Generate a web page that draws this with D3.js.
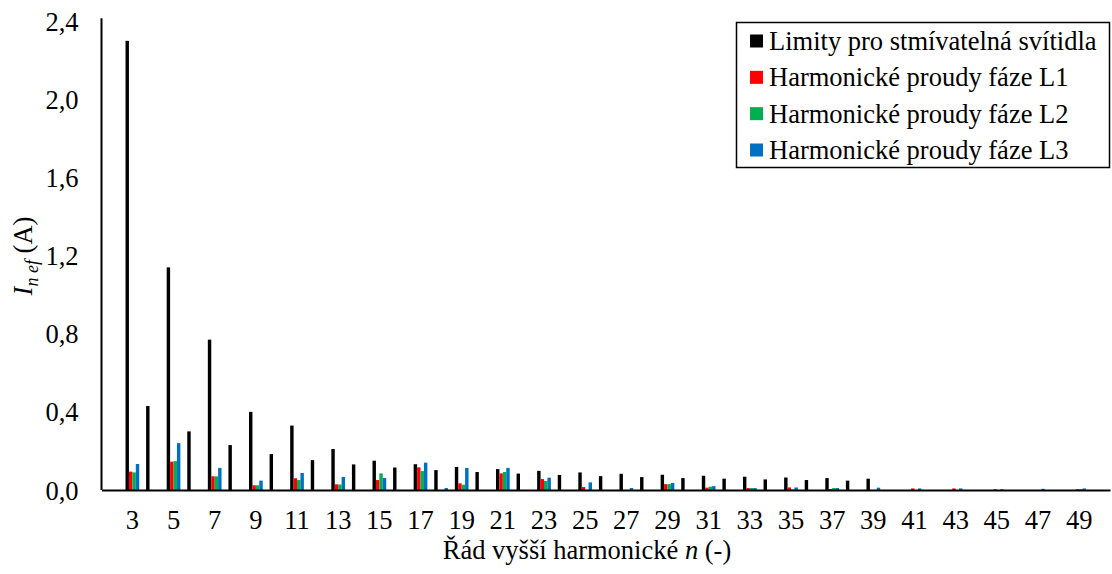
<!DOCTYPE html>
<html>
<head>
<meta charset="utf-8">
<script src="https://cdn.jsdelivr.net/npm/d3@7"></script>
<style>
  body { margin: 0; background: #fff; }
</style>
</head>
<body>
<svg id="chart" width="1112" height="574"></svg>
<script>
// harmonic order n (category axis), only odd ones get a label
const orders = [2, 3, 4, 5, 6, 7, 8, 9, 10, 11, 12, 13, 14, 15, 16, 17, 18, 19, 20, 21, 22, 23, 24, 25, 26,
  27, 28, 29, 30, 31, 32, 33, 34, 35, 36, 37, 38, 39, 40, 41, 42, 43, 44, 45, 46, 47, 48, 49, 50];
const tickOrders = [3, 5, 7, 9, 11, 13, 15, 17, 19, 21, 23, 25, 27, 29, 31, 33, 35, 37, 39, 41, 43, 45, 47, 49];
const yTicks = [0, 0.4, 0.8, 1.2, 1.6, 2.0, 2.4];

// values per order, same order as `orders`
const limits = [0, 2.30, 0.43, 1.14, 0.30, 0.77, 0.23, 0.40, 0.184, 0.33, 0.153, 0.21, 0.131, 0.15, 0.115,
  0.132, 0.102, 0.118, 0.092, 0.107, 0.084, 0.098, 0.077, 0.090, 0.071, 0.083, 0.066, 0.078, 0.061, 0.073,
  0.058, 0.068, 0.054, 0.064, 0.051, 0.061, 0.048, 0.058, 0, 0, 0, 0, 0, 0, 0, 0, 0, 0, 0];
const phaseL1 = [0, 0.094, 0, 0.145, 0, 0.070, 0, 0.024, 0, 0.060, 0, 0.029, 0, 0.051, 0,
  0.116, 0, 0.034, 0, 0.085, 0, 0.056, 0, 0.015, 0, 0, 0, 0.030, 0, 0.012,
  0, 0.010, 0, 0.013, 0, 0.005, 0, 0, 0, 0.008, 0, 0.008, 0, 0.004, 0, 0, 0, 0.004, 0];
const phaseL2 = [0, 0.090, 0, 0.148, 0, 0.070, 0, 0.024, 0, 0.051, 0, 0.028, 0, 0.085, 0,
  0.097, 0, 0.027, 0, 0.092, 0, 0.046, 0, 0, 0, 0, 0, 0.030, 0, 0.017,
  0, 0.010, 0, 0.003, 0, 0.010, 0, 0, 0, 0, 0, 0, 0, 0, 0, 0, 0, 0.004, 0];
const phaseL3 = [0, 0.133, 0, 0.240, 0, 0.113, 0, 0.048, 0, 0.087, 0, 0.067, 0, 0.061, 0,
  0.140, 0.010, 0.113, 0, 0.113, 0, 0.063, 0, 0.039, 0, 0.010, 0, 0.036, 0, 0.020,
  0, 0.010, 0, 0.013, 0, 0.010, 0, 0.012, 0, 0.008, 0, 0.008, 0, 0.004, 0, 0.006, 0, 0.008, 0];

const seriesNames = ["Limity pro stmívatelná svítidla", "Harmonické proudy fáze L1",
  "Harmonické proudy fáze L2", "Harmonické proudy fáze L3"];
const seriesColors = ["#000000", "#ff0000", "#00b050", "#0070c0"];
const seriesValues = [limits, phaseL1, phaseL2, phaseL3];

const FONT = "'Liberation Serif', serif";
const fontSize = 26.5;

const svg = d3.select("#chart");

const plot = { left: 101.5, right: 1110, top: 21.3, bottom: 490 };

const x0 = d3.scaleBand()
  .domain(orders)
  .range([plot.left, plot.right]);

const x1 = d3.scaleBand()
  .domain(d3.range(seriesNames.length))
  .range([x0.bandwidth() * 0.167, x0.bandwidth() * 0.833]);

const y = d3.scaleLinear()
  .domain([0, 2.4])
  .range([plot.bottom, plot.top]);

// bars
const groups = svg.append("g").attr("class", "bars")
  .selectAll("g")
  .data(orders)
  .join("g")
  .attr("transform", d => `translate(${x0(d)},0)`);

groups.selectAll("rect")
  .data((d, i) => seriesValues.map((vals, s) => ({ s, v: vals[i] })))
  .join("rect")
  .attr("x", d => x1(d.s))
  .attr("width", x1.bandwidth())
  .attr("y", d => y(d.v))
  .attr("height", d => plot.bottom - y(d.v))
  .attr("fill", d => seriesColors[d.s]);

// y axis
const yAxis = svg.append("g")
  .attr("transform", `translate(${plot.left},0)`)
  .call(d3.axisLeft(y).tickValues(yTicks).tickSize(0).tickSizeOuter(0).tickPadding(23)
    .tickFormat(d => d3.format(".1f")(d).replace(".", ",")));
yAxis.attr("font-family", null).attr("font-size", null);
yAxis.select(".domain").attr("stroke", "#000").attr("stroke-width", 2)
  .attr("d", `M0,${plot.top - 3}V${plot.bottom}`);
yAxis.selectAll("text")
  .style("font-family", FONT)
  .style("font-size", fontSize + "px")
  .attr("fill", "#000")
  .attr("dy", "0.34em");

// x axis
const xAxis = svg.append("g")
  .attr("transform", `translate(0,${plot.bottom})`)
  .call(d3.axisBottom(x0).tickValues(tickOrders).tickSize(0).tickSizeOuter(0).tickPadding(20));
xAxis.attr("font-family", null).attr("font-size", null);
xAxis.select(".domain").attr("stroke", "#000").attr("stroke-width", 2);
xAxis.selectAll("text")
  .style("font-family", FONT)
  .style("font-size", fontSize + "px")
  .attr("fill", "#000");

// axis titles
const xTitle = svg.append("text")
  .attr("x", 587)
  .attr("y", 559)
  .attr("text-anchor", "middle")
  .style("font-family", FONT)
  .style("font-size", fontSize + "px");
xTitle.append("tspan").text("Řád vyšší harmonické ");
xTitle.append("tspan").attr("font-style", "italic").text("n");
xTitle.append("tspan").text(" (-)");

const yTitle = svg.append("text")
  .attr("transform", "translate(32,256) rotate(-90)")
  .attr("text-anchor", "middle")
  .style("font-family", FONT)
  .style("font-size", fontSize + "px");
yTitle.append("tspan").attr("font-style", "italic").text("I");
yTitle.append("tspan").attr("font-style", "italic").style("font-size", "18px").attr("dy", 6).text("n ef");
yTitle.append("tspan").attr("dy", -6).text(" (A)");

// legend
const legend = svg.append("g").attr("class", "legend");
legend.append("rect")
  .attr("x", 736.5).attr("y", 22.5)
  .attr("width", 373).attr("height", 145)
  .attr("fill", "#fff").attr("stroke", "#000").attr("stroke-width", 1.5);

const rowY = d3.scalePoint().domain(d3.range(seriesNames.length)).range([41, 150]);
const items = legend.selectAll("g.item")
  .data(seriesNames)
  .join("g")
  .attr("class", "item")
  .attr("transform", (d, i) => `translate(750,${rowY(i)})`);
items.append("rect")
  .attr("x", 0).attr("y", -6.5)
  .attr("width", 13).attr("height", 13)
  .attr("fill", (d, i) => seriesColors[i]);
items.append("text")
  .attr("x", 19).attr("y", 9)
  .style("font-family", FONT)
  .style("font-size", fontSize + "px")
  .text(d => d);
</script>
</body>
</html>
